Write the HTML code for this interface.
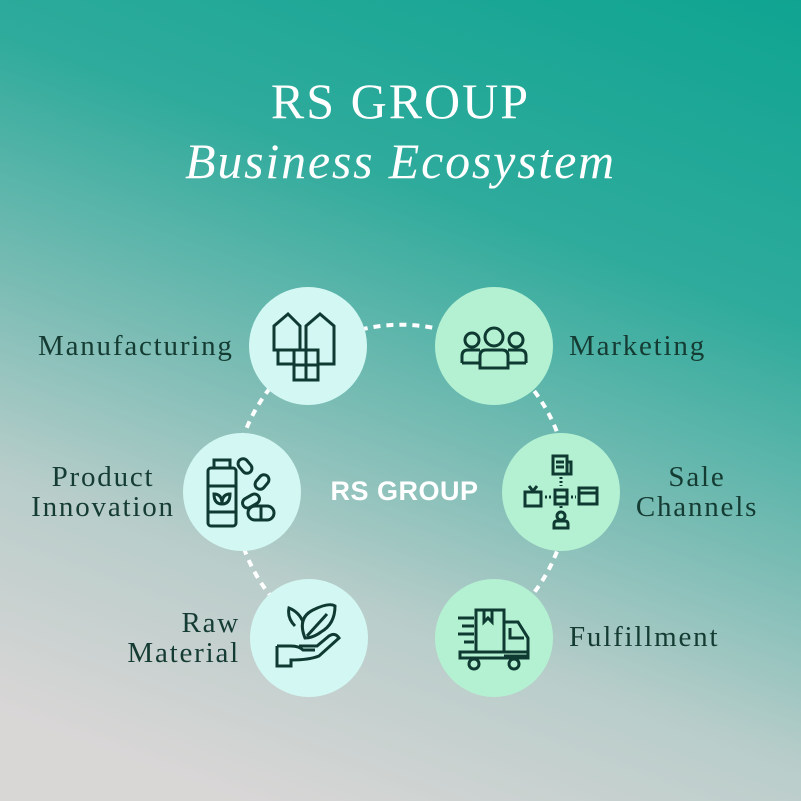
<!DOCTYPE html>
<html><head><meta charset="utf-8"><style>
html,body{margin:0;padding:0}
body{width:801px;height:801px;overflow:hidden;position:relative;font-family:"Liberation Serif",serif;
background:linear-gradient(200deg,#0fa491 0%,#2fab9c 30%,#79bcb4 52%,#b8cdca 70%,#d9d6d6 92%);}
.t{position:absolute;left:0;width:801px;text-align:center;color:#fff}
.c{position:absolute;width:118px;height:118px;border-radius:50%}
.l{background:#d3f7f3}.r{background:#b4f1d2}
.lab{position:absolute;color:#153c33;font-size:29px;line-height:30px;letter-spacing:1.8px;white-space:nowrap}
svg.i{position:absolute;left:19px;top:19px;width:80px;height:80px}
</style></head><body>
<div class="t" style="top:72px;font-size:50px;letter-spacing:2px">RS GROUP</div>
<div class="t" style="top:132px;font-size:50px;font-style:italic;letter-spacing:1.8px">Business Ecosystem</div>
<svg style="position:absolute;left:0;top:0" width="801" height="801"><path d="M312 633 A167 167 0 1 1 490 633" fill="none" stroke="#fff" stroke-width="4" stroke-dasharray="7 6"/></svg>
<div class="t" style="top:476px;font-family:'Liberation Sans',sans-serif;font-size:27px;font-weight:bold;left:4px;letter-spacing:0.5px">RS GROUP</div>

<div class="c l" style="left:249px;top:287px"><svg class="i" viewBox="0 0 80 80" fill="none" stroke="#0f3a32" stroke-width="3"><path d="M6 44V20L20 8L32 20V44H6Z"/><path d="M38 44V20L52 8L66 20V44"/><path d="M10 44V58H26"/><path d="M66 44V58H50"/><rect x="26" y="44" width="24" height="30"/><path d="M38 44V74M26 59H50"/></svg></div>
<div class="c r" style="left:435px;top:287px"><svg class="i" viewBox="0 0 80 80" fill="none" stroke="#0f3a32" stroke-width="3"><circle cx="18" cy="34" r="7"/><circle cx="40" cy="31" r="9"/><circle cx="62" cy="34" r="7"/><path d="M8 57V50Q8 44 14 44H26"/><path d="M72 57V50Q72 44 66 44H54"/><path d="M26 62V50Q26 44 32 44H48Q54 44 54 50V62Z"/><path d="M8 57H26M54 57H72"/></svg></div>
<div class="c l" style="left:183px;top:433px"><svg class="i" viewBox="0 0 80 80" fill="none" stroke="#0f3a32" stroke-width="3"><rect x="12" y="8" width="16" height="8"/><rect x="6" y="16" width="28" height="58" rx="3"/><path d="M6 34H34M6 60H34"/><path d="M20 52Q12 52 12 42Q20 42 20 52Q28 52 28 42Q20 42 20 52"/><rect x="38" y="6" width="10" height="16" rx="5" transform="rotate(-40 43 14)"/><rect x="55" y="22" width="10" height="16" rx="5" transform="rotate(40 60 30)"/><rect x="46" y="54" width="26" height="14" rx="7"/><path d="M59 54V68"/><rect x="40" y="44" width="18" height="10" rx="5" transform="rotate(-30 49 49)"/></svg></div>
<div class="c r" style="left:502px;top:433px"><svg class="i" viewBox="0 0 80 80" fill="none" stroke="#0f3a32" stroke-width="3"><rect x="32" y="4" width="14" height="18"/><path d="M46 10H50V22H46M35 10H43M35 15H43"/><rect x="4" y="40" width="16" height="14"/><path d="M8 34L12 39L16 34"/><rect x="34" y="38" width="12" height="14"/><path d="M34 45H46"/><rect x="58" y="36" width="18" height="16"/><path d="M58 41H76"/><circle cx="40" cy="64" r="4"/><path d="M33 76V72Q33 69 36 69H44Q47 69 47 72V76Z"/><path d="M24 45H30M50 45H55M40 25V34M40 54V58" stroke-dasharray="2 2"/></svg></div>
<div class="c l" style="left:250px;top:579px"><svg class="i" viewBox="0 0 80 80" fill="none" stroke="#0f3a32" stroke-width="3"><path d="M8 48V68H22V62Q40 62 50 58L70 40Q66 34 60 38L48 48H30"/><path d="M8 48H22Q30 48 34 52H46"/><path d="M36 40Q28 20 44 12Q60 4 66 8Q66 26 52 34Q44 40 36 40Z"/><path d="M38 38L58 16M34 24Q30 14 20 10Q18 20 26 28"/></svg></div>
<div class="c r" style="left:435px;top:579px"><svg class="i" viewBox="0 0 80 80" fill="none" stroke="#0f3a32" stroke-width="3"><rect x="22" y="12" width="28" height="42"/><path d="M30 12V24L34 20L38 24V12"/><path d="M50 24H64L74 40V58H50"/><path d="M56 30V40H70"/><path d="M6 54H74V60H6Z"/><circle cx="20" cy="66" r="5"/><circle cx="60" cy="66" r="5"/><path d="M4 20H20M8 28H20M4 36H20M10 44H20"/></svg></div>

<div class="lab" style="left:38px;top:331px">Manufacturing</div>
<div class="lab" style="left:569px;top:331px">Marketing</div>
<div class="lab" style="left:13px;top:462px;width:180px;text-align:center">Product<br>Innovation</div>
<div class="lab" style="left:607px;top:462px;width:180px;text-align:center">Sale<br>Channels</div>
<div class="lab" style="left:98px;top:608px;width:142px;text-align:right">Raw<br>Material</div>
<div class="lab" style="left:569px;top:622px">Fulfillment</div>
</body></html>
